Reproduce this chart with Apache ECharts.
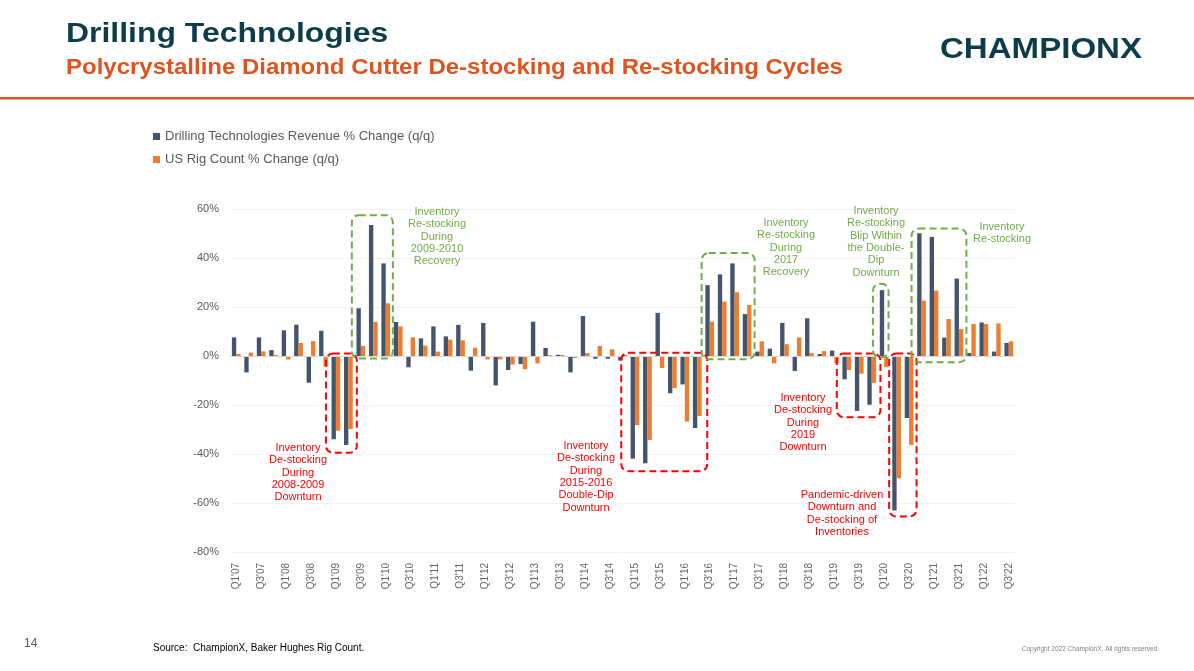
<!DOCTYPE html>
<html>
<head>
<meta charset="utf-8">
<script src="https://cdn.jsdelivr.net/npm/echarts@6/dist/echarts.min.js"></script>
<style>
html,body{margin:0;padding:0;background:#fff;}
#c{width:1194px;height:671px;}
</style>
</head>
<body>
<div id="c"></div>
<script>
const quarters = [
"Q1'07","Q2'07","Q3'07","Q4'07","Q1'08","Q2'08","Q3'08","Q4'08",
"Q1'09","Q2'09","Q3'09","Q4'09","Q1'10","Q2'10","Q3'10","Q4'10",
"Q1'11","Q2'11","Q3'11","Q4'11","Q1'12","Q2'12","Q3'12","Q4'12",
"Q1'13","Q2'13","Q3'13","Q4'13","Q1'14","Q2'14","Q3'14","Q4'14",
"Q1'15","Q2'15","Q3'15","Q4'15","Q1'16","Q2'16","Q3'16","Q4'16",
"Q1'17","Q2'17","Q3'17","Q4'17","Q1'18","Q2'18","Q3'18","Q4'18",
"Q1'19","Q2'19","Q3'19","Q4'19","Q1'20","Q2'20","Q3'20","Q4'20",
"Q1'21","Q2'21","Q3'21","Q4'21","Q1'22","Q2'22","Q3'22"];

const revenueChange = [
7.6,-6.7,7.6,2.4,10.5,12.8,-10.9,10.3,
-34.0,-36.3,19.5,53.5,37.8,13.9,-4.6,7.2,
12.1,8.0,12.7,-6.0,13.5,-12.0,-5.7,-3.3,
14.0,3.3,0.5,-6.7,16.3,-1.1,-1.1,-1.9,
-41.9,-43.8,17.6,-15.2,-11.6,-29.4,28.9,33.3,
37.8,17.1,1.8,3.0,13.5,-6.1,15.4,0.8,
2.2,-9.5,-22.4,-19.9,26.9,-63.1,-25.3,50.1,
48.6,7.5,31.6,1.2,13.7,1.8,5.3];

const rigCountChange = [
0.8,1.4,1.9,0.4,-1.4,5.3,6.1,-4.4,
-30.5,-29.8,4.1,13.9,21.5,12.1,7.6,4.2,
1.8,6.7,6.4,3.4,-1.4,-1.4,-3.5,-5.4,
-3.0,0.3,0.4,-0.8,1.2,4.1,2.7,0.4,
-28.2,-34.3,-4.9,-13.1,-26.8,-24.5,14.0,22.2,
26.0,20.8,6.0,-3.0,4.8,7.6,1.2,2.0,
-2.9,-5.7,-7.2,-11.0,-4.6,-49.9,-36.3,22.6,
26.7,15.1,11.0,13.1,13.1,13.3,6.0];

const yTicks = {min:-80, max:60, interval:20};

// annotation boxes: [bandStart, bandEnd, valueTop, valueBottom, type]
const boxes = [
  [7.70,10.18,1,-39.5,'red'],
  [9.78,13.07,57.5,-1,'green'],
  [31.4,38.3,1.3,-47,'red'],
  [37.85,42.1,42,-1.3,'green'],
  [48.7,52.2,1,-25,'red'],
  [51.6,52.85,29.5,-0.5,'green'],
  [52.9,55.1,1,-65.5,'red'],
  [54.7,59.1,52,-2.5,'green']
];

const notes = [
  ["Inventory\nRe-stocking\nDuring\n2009-2010\nRecovery", 437, 206, 'green'],
  ["Inventory\nDe-stocking\nDuring\n2008-2009\nDownturn", 298, 442, 'red'],
  ["Inventory\nDe-stocking\nDuring\n2015-2016\nDouble-Dip\nDownturn", 586, 440, 'red'],
  ["Inventory\nRe-stocking\nDuring\n2017\nRecovery", 786, 217, 'green'],
  ["Inventory\nRe-stocking\nBlip Within\nthe Double-\nDip\nDownturn", 876, 205, 'green'],
  ["Inventory\nDe-stocking\nDuring\n2019\nDownturn", 803, 392, 'red'],
  ["Pandemic-driven\nDownturn and\nDe-stocking of\nInventories", 842, 489, 'red'],
  ["Inventory\nRe-stocking", 1002, 221, 'green']
];

const COLORS = {red:'#FF0000', green:'#70AD47'};
const FONT = '"Liberation Sans", Arial, sans-serif';

const chart = echarts.init(document.getElementById('c'), null, {renderer:'canvas'});

const option = {
  animation:false,
  backgroundColor:'#fff',
  textStyle:{fontFamily:FONT},
  legend:{
    orient:'vertical', left:148, top:125, itemWidth:7, itemHeight:7, itemGap:10,
    icon:'rect',
    textStyle:{fontSize:13, color:'#595959', fontFamily:FONT},
    data:['Drilling Technologies Revenue % Change (q/q)','US Rig Count % Change (q/q)']
  },
  grid:{left:230, right:179, top:209, bottom:119},
  xAxis:{
    type:'category', data:quarters,
    axisLine:{show:false, onZero:false}, axisTick:{show:false},
    axisLabel:{interval:1, rotate:90, fontSize:10, color:'#666', margin:11, fontFamily:FONT},
    splitLine:{show:false}
  },
  yAxis:{
    type:'value', min:yTicks.min, max:yTicks.max, interval:yTicks.interval,
    axisLabel:{formatter:'{value}%', fontSize:11, color:'#595959', margin:11, fontFamily:FONT},
    axisLine:{show:false}, axisTick:{show:false},
    splitLine:{lineStyle:{color:'#F2F2F2', width:1}}
  },
  series:[
    {name:'Drilling Technologies Revenue % Change (q/q)', type:'bar', data:revenueChange,
     itemStyle:{color:'#44546A'}, barGap:'0%', barCategoryGap:'30%',
     markLine:{silent:true, symbol:'none', label:{show:false},
       lineStyle:{color:'#D9D9D9', type:'solid', width:1}, data:[{yAxis:0}]}},
    {name:'US Rig Count % Change (q/q)', type:'bar', data:rigCountChange,
     itemStyle:{color:'#ED7D31'}, barGap:'0%', barCategoryGap:'30%'}
  ],
  graphic:[]
};
chart.setOption(option);

function buildGraphics(){
  const c0 = chart.convertToPixel({xAxisIndex:0}, 0);
  const c1 = chart.convertToPixel({xAxisIndex:0}, 1);
  const band = c1 - c0;
  const left0 = c0 - band/2;
  const g = [];
  // header
  g.push({type:'text', x:66, y:20, scaleX:1.14, style:{text:'Drilling Technologies', font:'bold 28px '+FONT, fill:'#0E3D4A', textVerticalAlign:'top'}});
  g.push({type:'text', x:66, y:57, scaleX:1.09, style:{text:'Polycrystalline Diamond Cutter De-stocking and Re-stocking Cycles', font:'bold 22px '+FONT, fill:'#E0531F', textVerticalAlign:'top'}});
  g.push({type:'rect', shape:{x:0, y:97, width:1194, height:2.5}, style:{fill:'#E0531F'}});
  // logo
  g.push({type:'text', x:940, y:35, scaleX:1.14, style:{text:'CHAMPIONX', font:'bold 29px '+FONT, fill:'#0E3D4A', textVerticalAlign:'top'}});
  // footer
  g.push({type:'text', left:24, top:638, style:{text:'14', font:'12px '+FONT, fill:'#595959'}});
  g.push({type:'text', left:153, top:643, style:{text:'Source:  ChampionX, Baker Hughes Rig Count.', font:'10px '+FONT, fill:'#000'}});
  g.push({type:'text', right:35, top:646, style:{text:'Copyright 2022 ChampionX. All rights reserved.', font:'6.5px '+FONT, fill:'#808080'}});
  // boxes
  boxes.forEach(b=>{
    const x0 = left0 + b[0]*band, x1 = left0 + b[1]*band;
    const yT = chart.convertToPixel({yAxisIndex:0}, b[2]);
    const yB = chart.convertToPixel({yAxisIndex:0}, b[3]);
    g.push({type:'rect', z:100, shape:{x:x0, y:yT, width:x1-x0, height:yB-yT, r:7},
      style:{fill:'none', stroke:COLORS[b[4]], lineWidth:2, lineDash:[7,4]}});
  });
  notes.forEach(n=>{
    g.push({type:'text', z:100, x:n[1], y:n[2], style:{text:n[0], font:'11px '+FONT, fill:COLORS[n[3]], textAlign:'center', textVerticalAlign:'top', lineHeight:12.3}});
  });
  chart.setOption({graphic:g});
}
buildGraphics();
</script>
</body>
</html>
